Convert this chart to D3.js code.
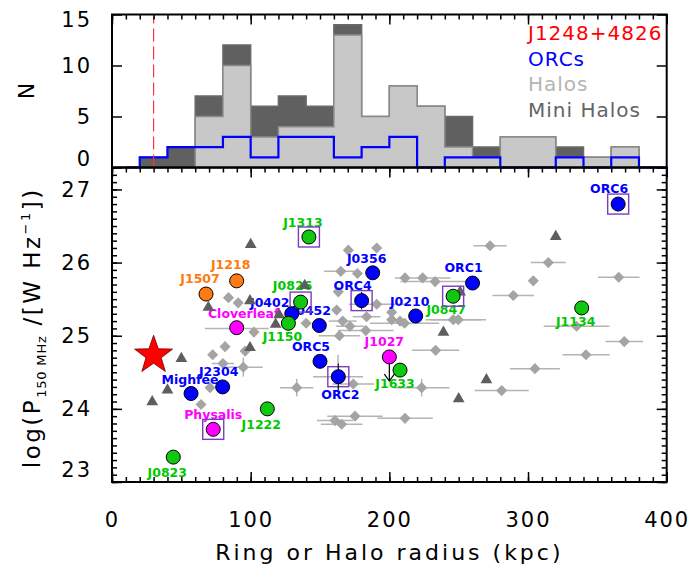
<!DOCTYPE html>
<html>
<head>
<meta charset="utf-8">
<script src="https://cdn.jsdelivr.net/npm/d3@7"></script>
<style>
  body { margin: 0; background: #fff; }
  svg { display: block; }
  .tick text { font-family: "DejaVu Sans"; font-size: 21px; letter-spacing: 2px; fill: #000; }
  .src-label { font-family: "DejaVu Sans"; font-size: 12.5px; font-weight: bold; }
</style>
</head>
<body>
<svg id="chart" width="693" height="569"></svg>
<script>
// ---- histogram, 20 kpc bins ----
const binStart   = [0, 20, 40, 60, 80, 100, 120, 140, 160, 180, 200, 220, 240, 260, 280, 300, 320, 340, 360, 380];
const nHalos     = [0, 0, 0, 5, 10, 3, 4, 4, 13, 5, 8, 6, 2, 1, 3, 3, 1, 1, 2, 0];
const nMiniHalos = [0, 1, 2, 2, 2, 3, 3, 2, 1, 0, 0, 0, 3, 1, 0, 0, 1, 0, 0, 0];
const nORCs      = [0, 1, 2, 2, 3, 1, 3, 3, 1, 2, 3, 0, 1, 1, 0, 0, 1, 0, 1, 0];

// ---- J1248+4826 ----
const targetName = "J1248+4826";
const targetRadius = 30;
const targetLogP = 24.76;

// ---- named sources ----
const srcNames  = ["ORC6", "ORC1", "J0356", "ORC4", "J0210", "J0452", "J0402", "ORC5", "ORC2", "J2304", "Mighfee",
                   "J1313", "J0826", "J1150", "J0847", "J1134", "J1633", "J1222", "J0823",
                   "Cloverleaf", "J1027", "Physalis", "J1218", "J1507"];
const srcRadius = [365, 260, 188, 180, 219, 149.5, 129.6, 150, 163.2, 79.8, 57,
                   142, 136, 127.2, 246, 338.7, 207.7, 112, 44.2,
                   89.9, 200, 73, 89.9, 67.8];
const srcLogP   = [26.80, 25.72, 25.86, 25.48, 25.27, 25.14, 25.30, 24.65, 24.44, 24.30, 24.21,
                   26.35, 25.46, 25.17, 25.54, 25.38, 24.53, 24.00, 23.34,
                   25.11, 24.71, 23.72, 25.75, 25.57];
const srcType   = ["orc", "orc", "orc", "orc", "orc", "orc", "orc", "orc", "orc", "orc", "orc",
                   "green", "green", "green", "green", "green", "green", "green", "green",
                   "magenta", "magenta", "magenta", "orange", "orange"];
const srcBoxed  = ["ORC6", "ORC4", "ORC2", "J1313", "J0826", "J0847", "Physalis"];
const srcUpperLimit = ["J1027"];
const srcPErr   = { ORC4: 0.12, ORC2: 0.18 };

// ---- halos (diamonds) ----
const haloR = [84, 91, 102.4, 90, 81.5, 72.6, 96, 94.7, 80, 70.7, 64.2, 133.2, 140, 171.6, 183, 164, 174, 175.2,
               160.8, 165.6, 211.3, 223.3, 233.4, 170.4, 190.9, 165, 177, 211.3, 224, 233, 272.6, 190.9, 201.7,
               201.7, 207.7, 211, 166.4, 246.1, 249.7, 314.6, 303.8, 289.4, 365.4, 335, 369.4, 341.8, 305, 281,
               163.2, 162, 183.6, 163];
const haloP = [25.52, 25.45, 25.05, 25.10, 24.85, 24.74, 24.79, 24.57, 24.62, 24.29, 24.06, 24.29, 25.17, 25.13,
               25.07, 25.00, 24.34, 23.90, 23.84, 23.79, 23.87, 24.29, 24.80, 26.17, 26.20, 25.88, 25.85, 25.79,
               25.79, 25.74, 26.23, 25.43, 25.32, 25.22, 25.20, 25.17, 25.20, 25.22, 25.22, 26.00, 25.75, 25.55,
               25.80, 25.13, 24.92, 24.74, 24.55, 24.25, 25.60, 25.35, 25.26, 24.44];
const haloRErr = [0, 0, 0, 23, 0, 0, 0, 14, 8, 0, 0, 12, 0, 10, 20, 15, 15, 20, 13, 15, 20, 20, 17, 0, 0, 12, 0, 0,
                  20, 25, 12, 20, 0, 0, 0, 25, 10, 20, 20, 12.6, 0, 15, 15, 23.7, 13.5, 17, 18, 19.5, 0, 0, 10, 18];
const haloPErr = [0, 0, 0, 0, 0, 0, 0, 0.13, 0, 0, 0, 0.12, 0, 0, 0, 0, 0, 0, 0, 0, 0, 0.12, 0, 0, 0, 0, 0, 0,
                  0, 0, 0, 0, 0, 0, 0, 0, 0, 0, 0, 0, 0, 0, 0, 0, 0, 0, 0, 0, 0, 0, 0, 0.3];

// ---- mini halos (triangles) ----
const miniR = [100, 69.5, 99.5, 120.5, 118, 139, 99.5, 50, 40, 29, 251, 239, 270, 250, 320];
const miniP = [26.26, 25.40, 25.49, 25.30, 25.17, 25.70, 24.85, 24.70, 24.27, 24.11, 25.61, 25.06, 24.41, 24.15, 26.37];

// ---- axis ticks ----
const xMajor = [0, 100, 200, 300, 400];
const nTicks = [0, 5, 10, 15];
const pTicks = [23, 24, 25, 26, 27];

// label placement (dx, baseline dy) relative to each circle
const labelOffset = {
  ORC6: [-9, -11], ORC1: [-9, -11], J0356: [-6, -10], ORC4: [-9, -11], J0210: [-6, -10], J0402: [-22, -7],
  J0452: [-8, -10], ORC5: [-9, -10], ORC2: [2, 22], J2304: [-4, -11], Mighfee: [-1, -10],
  J1313: [-6, -10], J0826: [-8, -12], J1150: [-6, 18], J0847: [-7, 18], J1134: [-6, 18], J1633: [-5, 18],
  J1222: [-6, 20], J0823: [-6, 20], Cloverleaf: [7, -10], J1027: [-5, -11], Physalis: [0, -10],
  J1218: [-6, -12], J1507: [-6, -11]
};
const fillColor  = { orc: "#0000ff", green: "#11c811", magenta: "#ff00ff", orange: "#ff7a10" };
const labelColor = { orc: "#0000ff", green: "#00c800", magenta: "#ff00ff", orange: "#ff7a10" };

const svg = d3.select('#chart');
const pL = 112, pR = 666.7, pT = 14.5, pM = 167.5, pB = 482;

const x = d3.scaleLinear().domain([0, 400]).range([pL, pR]);
const yTop = d3.scaleLinear().domain([0, 15]).range([pM, pT]);
const yBot = d3.scaleLinear().domain([23, 27.3]).range([pB, pM]);

// ================= top panel: histogram =================
const total = nHalos.map((h, i) => h + nMiniHalos[i]);
const stepArea = d3.area().curve(d3.curveStepAfter)
  .x(d => x(d[0])).y0(yTop(0)).y1(d => yTop(d[1]));

const totalPts = binStart.map((b, i) => [b, total[i]]).concat([[400, total[total.length - 1]]]);
const haloPts = binStart.map((b, i) => [b, nHalos[i]]).concat([[400, nHalos[nHalos.length - 1]]]);

svg.append('path').attr('d', stepArea(totalPts))
  .attr('fill', '#606060').attr('stroke', '#6a6a6a').attr('stroke-width', 1.5);
svg.append('path').attr('d', stepArea(haloPts))
  .attr('fill', '#c8c8c8').attr('stroke', '#8a8a8a').attr('stroke-width', 1.5);

// ORC step line, drawn from bin centres (histogram mode)
const orcPts = binStart.map((b, i) => [b + 10, nORCs[i]]).concat([[400, nORCs[nORCs.length - 1]]]);
svg.append('path')
  .attr('d', d3.line().curve(d3.curveStep).x(d => x(d[0])).y(d => yTop(d[1]))(orcPts))
  .attr('fill', 'none').attr('stroke', '#0000ff').attr('stroke-width', 2.2);

// J1248 radius marker
svg.append('line')
  .attr('x1', x(targetRadius)).attr('x2', x(targetRadius))
  .attr('y1', yTop(0)).attr('y2', yTop(14.8))
  .attr('stroke', '#ff3333').attr('stroke-width', 1.2).attr('stroke-dasharray', '13,5');

// legend
const legend = [[targetName, '#ff0000'], ['ORCs', '#0000ff'], ['Halos', '#b4b4b4'], ['Mini Halos', '#646464']];
svg.selectAll('.legend').data(legend).enter().append('text')
  .attr('class', 'legend')
  .attr('x', 528).attr('y', (d, i) => 40 + i * 25.5)
  .attr('font-family', 'DejaVu Sans').attr('font-size', 20).attr('letter-spacing', 1)
  .attr('fill', d => d[1]).text(d => d[0]);

// ================= bottom panel: scatter =================
const g = svg.append('g');

// halo error bars
const halos = haloR.map((r, i) => ({ r: r, p: haloP[i], er: haloRErr[i], ep: haloPErr[i] }));
g.selectAll('.herr').data(halos.filter(d => d.er > 0)).enter().append('line')
  .attr('x1', d => x(d.r - d.er)).attr('x2', d => x(d.r + d.er))
  .attr('y1', d => yBot(d.p)).attr('y2', d => yBot(d.p))
  .attr('stroke', '#b4b4b4').attr('stroke-width', 1.5);
g.selectAll('.verr').data(halos.filter(d => d.ep > 0)).enter().append('line')
  .attr('x1', d => x(d.r)).attr('x2', d => x(d.r))
  .attr('y1', d => yBot(d.p - d.ep)).attr('y2', d => yBot(d.p + d.ep))
  .attr('stroke', '#b4b4b4').attr('stroke-width', 1.5);

// halo diamonds
g.selectAll('.halo').data(halos).enter().append('path')
  .attr('d', d3.symbol().type(d3.symbolSquare).size(62))
  .attr('transform', d => `translate(${x(d.r)},${yBot(d.p)}) rotate(45)`)
  .attr('fill', '#a4a4a4');

const sources = srcNames.map((n, i) => ({
  name: n, r: srcRadius[i], p: srcLogP[i], type: srcType[i],
  boxed: srcBoxed.includes(n), upper: srcUpperLimit.includes(n)
}));

// labels
g.selectAll('.src-label').data(sources).enter().append('text')
  .attr('class', 'src-label')
  .attr('x', d => x(d.r) + labelOffset[d.name][0])
  .attr('y', d => yBot(d.p) + labelOffset[d.name][1])
  .attr('text-anchor', 'middle')
  .attr('fill', d => labelColor[d.type])
  .text(d => d.name);

// mini halo triangles
g.selectAll('.mini').data(miniR.map((r, i) => [r, miniP[i]])).enter().append('path')
  .attr('d', d3.symbol().type(d3.symbolTriangle).size(60))
  .attr('transform', d => `translate(${x(d[0])},${yBot(d[1]) + 1})`)
  .attr('fill', '#5e5e5e');

// boxes
g.selectAll('.box').data(sources.filter(d => d.boxed)).enter().append('rect')
  .attr('x', d => x(d.r) - 10.5).attr('y', d => yBot(d.p) - 10)
  .attr('width', 21).attr('height', 20)
  .attr('fill', 'none').attr('stroke', '#7a3cc0').attr('stroke-width', 1.4);

// black error bars on some sources
g.selectAll('.serr').data(sources.filter(d => srcPErr[d.name])).enter().append('line')
  .attr('x1', d => x(d.r)).attr('x2', d => x(d.r))
  .attr('y1', d => yBot(d.p - srcPErr[d.name])).attr('y2', d => yBot(d.p + srcPErr[d.name]))
  .attr('stroke', '#000').attr('stroke-width', 1);

// upper-limit arrow
sources.filter(d => d.upper).forEach(d => {
  const cx = x(d.r), y0 = yBot(d.p), y1 = yBot(d.p - 0.33);
  g.append('path')
    .attr('d', `M${cx},${y0}L${cx},${y1}M${cx - 5},${y1 - 7}L${cx},${y1}L${cx + 5},${y1 - 7}`)
    .attr('fill', 'none').attr('stroke', '#000').attr('stroke-width', 1.2);
});

// circles
g.selectAll('.src').data(sources).enter().append('circle')
  .attr('cx', d => x(d.r)).attr('cy', d => yBot(d.p)).attr('r', 7)
  .attr('fill', d => fillColor[d.type]).attr('stroke', '#000').attr('stroke-width', 1);

// J1248+4826 star
const star = [];
for (let k = 0; k < 10; k++) {
  const rad = k % 2 === 0 ? 20 : 8;
  const a = -Math.PI / 2 + k * Math.PI / 5;
  star.push([rad * Math.cos(a), rad * Math.sin(a)]);
}
g.append('path')
  .attr('d', 'M' + star.map(p => p.join(',')).join('L') + 'Z')
  .attr('transform', `translate(${x(targetRadius)},${yBot(targetLogP) + 2})`)
  .attr('fill', '#ff0000').attr('stroke', '#700000').attr('stroke-width', 0.8);

// ================= axes =================
function ticks(axis, tx, ty) {
  const a = svg.append('g').attr('transform', `translate(${tx},${ty})`).call(axis);
  a.select('.domain').remove();
  a.selectAll('line').attr('stroke', '#000').attr('stroke-width', 1.5);
  return a;
}
const xMinor = d3.range(0, 401, 10);
const pMinor = d3.range(230, 274, 1).map(v => v / 10);
const intFmt = d3.format('d');

// bottom panel
ticks(d3.axisBottom(x).tickValues(xMajor).tickSize(-10).tickPadding(30).tickFormat(intFmt), 0, pB);
ticks(d3.axisBottom(x).tickValues(xMinor).tickSize(-5).tickFormat(''), 0, pB);
ticks(d3.axisTop(x).tickValues(xMajor).tickSize(-10).tickFormat(''), 0, pM);
ticks(d3.axisTop(x).tickValues(xMinor).tickSize(-5).tickFormat(''), 0, pM);
const yl = ticks(d3.axisLeft(yBot).tickValues(pTicks).tickSize(-10).tickPadding(20).tickFormat(intFmt), pL, 0);
ticks(d3.axisLeft(yBot).tickValues(pMinor).tickSize(-5).tickFormat(''), pL, 0);
ticks(d3.axisRight(yBot).tickValues(pTicks).tickSize(-10).tickFormat(''), pR, 0);
ticks(d3.axisRight(yBot).tickValues(pMinor).tickSize(-5).tickFormat(''), pR, 0);
yl.selectAll('text').filter(d => d === 23).attr('dy', '-0.25em');

// top panel
ticks(d3.axisTop(x).tickValues(xMajor).tickSize(-10).tickFormat(''), 0, pT);
ticks(d3.axisTop(x).tickValues(xMinor).tickSize(-5).tickFormat(''), 0, pT);
const nl = ticks(d3.axisLeft(yTop).tickValues(nTicks).tickSize(-10).tickPadding(20).tickFormat(intFmt), pL, 0);
ticks(d3.axisRight(yTop).tickValues(nTicks).tickSize(-10).tickFormat(''), pR, 0);
nl.selectAll('text').filter(d => d === 0).attr('dy', '-0.1em');
nl.selectAll('text').filter(d => d === 15).attr('dy', '0.57em');

// frames
svg.append('rect').attr('x', pL).attr('y', pT).attr('width', pR - pL).attr('height', pM - pT)
  .attr('fill', 'none').attr('stroke', '#000').attr('stroke-width', 2);
svg.append('rect').attr('x', pL).attr('y', pM).attr('width', pR - pL).attr('height', pB - pM)
  .attr('fill', 'none').attr('stroke', '#000').attr('stroke-width', 2);

// axis titles
svg.append('text')
  .attr('x', (pL + pR) / 2).attr('y', 560)
  .attr('text-anchor', 'middle')
  .attr('font-family', 'DejaVu Sans').attr('font-size', 22).attr('letter-spacing', 3)
  .text('Ring or Halo radius (kpc)');

svg.append('text')
  .attr('transform', `translate(34,${(pT + pM) / 2}) rotate(-90)`)
  .attr('text-anchor', 'middle')
  .attr('font-family', 'DejaVu Sans').attr('font-size', 22)
  .text('N');

const yt = svg.append('text')
  .attr('transform', `translate(40,${(pM + pB) / 2 + 3}) rotate(-90)`)
  .attr('text-anchor', 'middle')
  .attr('font-family', 'DejaVu Sans').attr('font-size', 23).attr('letter-spacing', 2.5);
yt.append('tspan').text('log(P');
yt.append('tspan').attr('font-size', 13).attr('dy', 6).attr('letter-spacing', 0.8).text('150 MHz');
yt.append('tspan').attr('dy', -6).text(' /[W Hz');
yt.append('tspan').attr('font-size', 13).attr('dy', -10).text('−1');
yt.append('tspan').attr('dy', 10).text('])');
</script>
</body>
</html>
